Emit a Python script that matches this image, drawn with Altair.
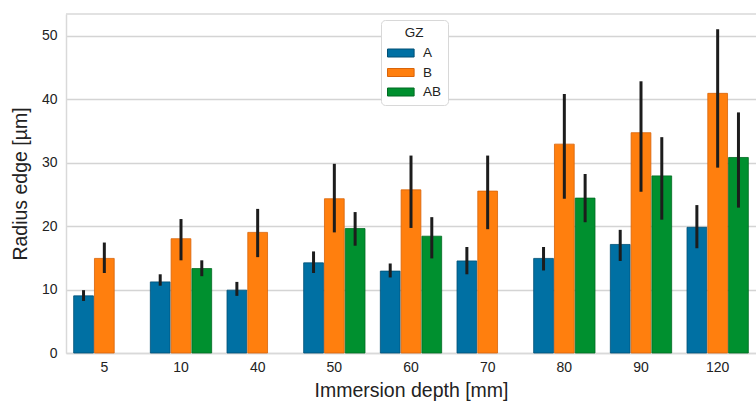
import altair as alt
import pandas as pd

depths = ["5", "10", "40", "50", "60", "70", "80", "90", "120"]
groups = ["A", "B", "AB"]

a_mean = [9.0, 11.2, 9.9, 14.2, 12.9, 14.5, 14.9, 17.1, 19.8]
a_lo = [8.2, 10.6, 9.0, 12.6, 11.9, 12.4, 13.0, 14.5, 16.5]
a_hi = [9.9, 12.4, 11.2, 16.0, 14.1, 16.7, 16.7, 19.4, 23.3]

b_mean = [14.9, 18.0, 19.0, 24.3, 25.7, 25.5, 32.9, 34.7, 40.9]
b_lo = [12.6, 14.6, 15.1, 19.0, 19.7, 19.5, 24.3, 25.4, 29.2]
b_hi = [17.4, 21.1, 22.7, 29.8, 31.1, 31.1, 40.8, 42.8, 51.0]

ab_depths = ["10", "50", "60", "80", "90", "120"]
ab_mean = [13.3, 19.6, 18.4, 24.4, 27.9, 30.8]
ab_lo = [12.1, 16.9, 14.9, 20.6, 21.0, 22.9]
ab_hi = [14.6, 22.2, 21.4, 28.2, 34.0, 37.9]

colors = ["#0070a3", "#ff7f0e", "#00902f"]
edge_colors = ["#004f75", "#d9640a", "#006b22"]

rows = []
for d, m, lo, hi in zip(depths, a_mean, a_lo, a_hi):
    rows.append({"depth": d, "GZ": "A", "mean": m, "lo": lo, "hi": hi})
for d, m, lo, hi in zip(depths, b_mean, b_lo, b_hi):
    rows.append({"depth": d, "GZ": "B", "mean": m, "lo": lo, "hi": hi})
for d, m, lo, hi in zip(ab_depths, ab_mean, ab_lo, ab_hi):
    rows.append({"depth": d, "GZ": "AB", "mean": m, "lo": lo, "hi": hi})
df = pd.DataFrame(rows)

W, H = 690, 339
FONT = "Liberation Sans"

xenc = alt.X("depth:N", sort=depths,
             scale=alt.Scale(paddingInner=0.2, paddingOuter=0.1),
             axis=alt.Axis(title="Immersion depth [mm]", labelAngle=0, ticks=False,
                           domain=True, domainColor="#d9d9d9", domainWidth=1.5,
                           labelPadding=7, titlePadding=7))
xoff = alt.XOffset("GZ:N", sort=groups, scale=alt.Scale(paddingInner=0.05))
yscale = alt.Scale(domain=[0, 53.4], nice=False)

bars = alt.Chart(df).mark_bar(strokeWidth=0.9, strokeOpacity=0.9).encode(
    x=xenc,
    xOffset=xoff,
    y=alt.Y("mean:Q", scale=yscale,
            axis=alt.Axis(title="Radius edge [µm]", values=[0, 10, 20, 30, 40, 50],
                          ticks=False, domain=True, domainColor="#d9d9d9", domainWidth=1.5,
                          labelPadding=9, titlePadding=11, grid=True,
                          gridColor="#d4d4d4", gridWidth=1.3)),
    color=alt.Color("GZ:N", sort=groups, scale=alt.Scale(domain=groups, range=colors),
                    legend=alt.Legend(title="GZ", orient="none", legendX=315, legendY=6,
                                      titleAnchor="middle", titleFontSize=13.5,
                                      labelFontSize=13.5, titleFontWeight="normal",
                                      symbolType="M-1,-0.4L1.66,-0.4L1.66,0.4L-1,0.4Z",
                                      symbolSize=400, symbolStrokeWidth=1,
                                      strokeColor="#d8d8d8", fillColor="white",
                                      cornerRadius=4, padding=6, rowPadding=2.5,
                                      labelOffset=15, titlePadding=3,
                                      symbolOpacity=1)),
    stroke=alt.Stroke("GZ:N", sort=groups,
                      scale=alt.Scale(domain=groups, range=edge_colors),
                      legend=None),
)

errs = alt.Chart(df).mark_rule(color="#1c1c1c", strokeWidth=3).encode(
    x=alt.X("depth:N", sort=depths),
    xOffset=xoff,
    y=alt.Y("lo:Q", scale=yscale),
    y2="hi:Q",
)

top = alt.Chart(pd.DataFrame({"v": [0]})).mark_rule(color="#d9d9d9", strokeWidth=1.5).encode(
    y=alt.value(0), x=alt.value(0), x2=alt.value(W))

chart = alt.layer(bars, errs, top).properties(
    width=W, height=H,
    padding={"left": 66, "top": 14, "right": 0, "bottom": 50},
    autosize=alt.AutoSizeParams(type="none"),
).configure_view(stroke=None).configure_axis(
    labelFont=FONT, titleFont=FONT, labelFontSize=14, titleFontSize=19.5,
    labelColor="#222222", titleColor="#222222", titleFontWeight="normal",
).configure_legend(labelFont=FONT, titleFont=FONT, labelColor="#222222", titleColor="#222222")

chart.save("out.html", embed_options={"renderer": "svg", "actions": False})
